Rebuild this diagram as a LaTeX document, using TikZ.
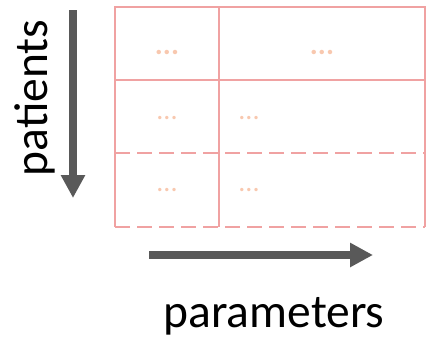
\documentclass[tikz,border=0pt]{standalone}
\usepackage{fontspec}
\setmainfont{Carlito}
\usetikzlibrary{arrows.meta}

\definecolor{gridred}{RGB}{240,162,162}
\definecolor{dotpeach}{RGB}{248,200,175}
\definecolor{arrowgray}{RGB}{89,89,89}

\tikzset{
    cell/.style={draw=gridred, line width=1.8pt},
    cellcut/.style={cell, dash pattern=on 15pt off 7pt},
    more/.style={text=dotpeach, font=\fontsize{28}{28}\selectfont, inner sep=0pt},
    morebig/.style={more, font=\fontsize{30}{30}\selectfont\bfseries},
    axis/.style={draw=arrowgray, line width=7.5pt, -{Triangle[length=23pt, width=23pt]}},
    axislabel/.style={font=\fontsize{47.5}{47.5}\selectfont, inner sep=0pt}
}

\begin{document}
\begin{tikzpicture}[x=1pt, y=-1pt]
\useasboundingbox (0,0) rectangle (436,340);

% table
\draw[cell] (115,227) -- (115,7) -- (425,7) -- (425,227);
\draw[cell] (219,7) -- (219,227);
\draw[cell] (115,80) -- (425,80);
\draw[cellcut] (115,153) -- (425,153);
\draw[cellcut] (115,227) -- (425,227);

\node[morebig] (r1a) at (167,52) {...};
\node[morebig] (r1b) at (322,52) {...};
\node[more] (r2a) at (167,118) {...};
\node[more] (r2b) at (249,118) {...};
\node[more] (r3a) at (167,190) {...};
\node[more] (r3b) at (249,190) {...};

% axes
\coordinate (pstart) at (73,10);
\coordinate (pend) at (73,198);
\draw[axis] (pstart) -- (pend);
\node[axislabel, rotate=90] (patients) at (35,98) {patients};

\coordinate (qstart) at (149,255);
\coordinate (qend) at (373,255);
\draw[axis] (qstart) -- (qend);
\node[axislabel, anchor=base] (parameters) at (274,327) {parameters};
\end{tikzpicture}
\end{document}
